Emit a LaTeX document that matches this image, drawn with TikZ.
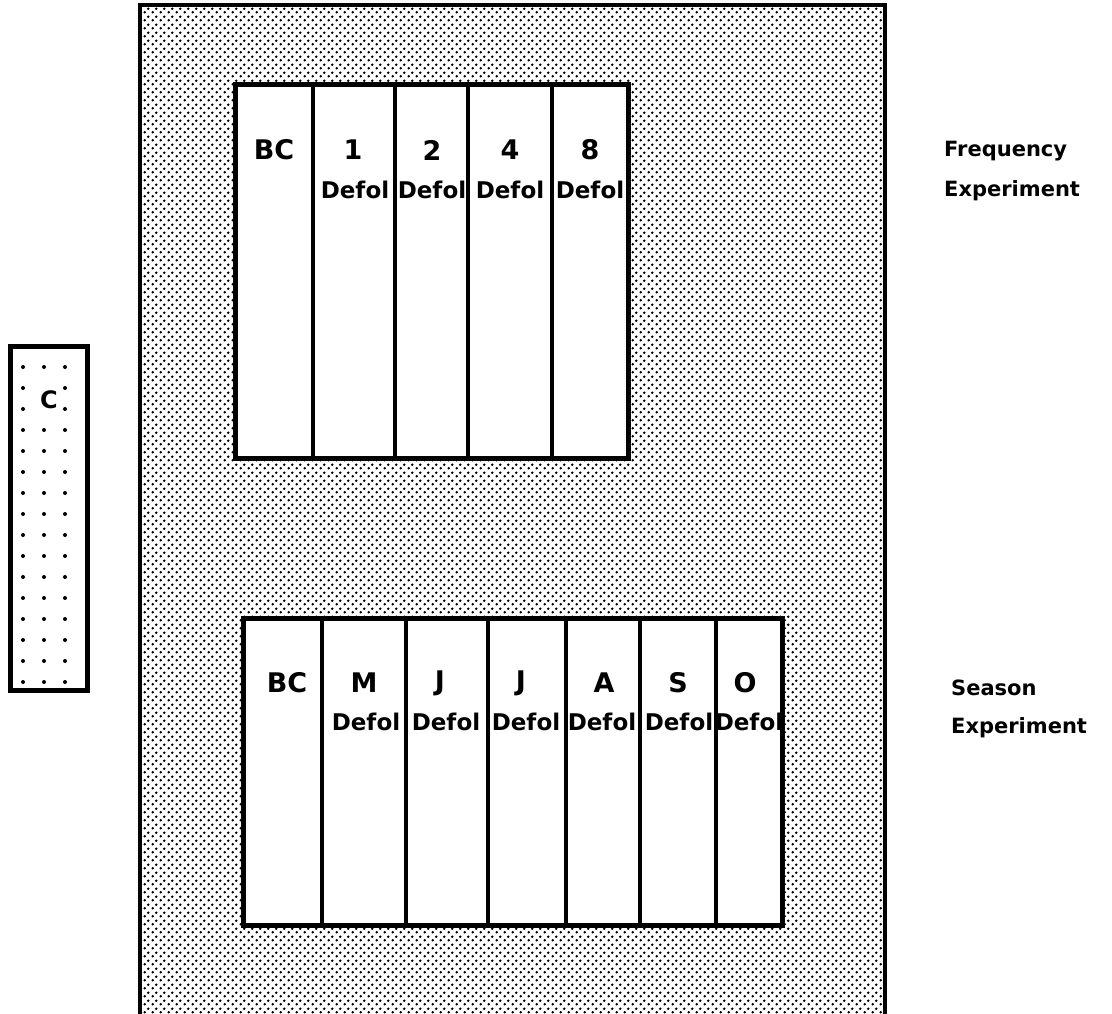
\documentclass[tikz,border=0pt]{standalone}
\usepackage{fontspec}
\setmainfont{DejaVu Sans}
\usetikzlibrary{patterns.meta}
\tikzdeclarepattern{name=stipple, type=colored, bottom left={(0pt,0pt)}, top right={(7.5pt,7.5pt)}, tile size={(7.5pt,7.5pt)},
  code={\fill[black] (1.875pt,1.875pt) circle (1.45pt); \fill[black] (5.625pt,5.625pt) circle (1.45pt);}}
\tikzset{
  plotbox/.style={draw=black, line width=5pt, fill=white},
  divider/.style={draw=black, line width=3.5pt},
  collab/.style={font=\bfseries\fontsize{27}{30}\selectfont, inner sep=0pt, anchor=center},
  defollab/.style={font=\bfseries\fontsize{23}{26}\selectfont, inner sep=0pt, anchor=center},
  explab/.style={font=\bfseries\fontsize{21}{24}\selectfont, inner sep=0pt, anchor=west},
  smalldot/.style={fill=black}
}
\begin{document}
\begin{tikzpicture}[x=1pt,y=-1pt]
\useasboundingbox (0,0) rectangle (1112,1014);
\begin{scope}
\clip (0,0) rectangle (1112,1014);
% outer stippled field
\fill[pattern={stipple}] (140,5) rectangle (885,1030);
\draw[line width=3.5pt] (140,1030) -- (140,5) -- (885,5) -- (885,1030);
\end{scope}
% frequency experiment block
\draw[plotbox] (235,85) rectangle (628,458);
\foreach \xx in {313,395,468,552} \draw[divider] (\xx,85) -- (\xx,458);
\node[collab] (f0) at (274,150) {BC};
\node[collab] (f1) at (353,150) {1};
\node[collab] (f2) at (432,150) {2};
\node[collab] (f4) at (510,150) {4};
\node[collab] (f8) at (590,150) {8};
\node[defollab] (d1) at (355,190) {Defol};
\node[defollab] (d2) at (432,190) {Defol};
\node[defollab] (d4) at (510,190) {Defol};
\node[defollab] (d8) at (590,190) {Defol};
% season experiment block
\draw[plotbox] (243,618) rectangle (782,925);
\foreach \xx in {322,406,488,566,640,716} \draw[divider] (\xx,618) -- (\xx,925);
\node[collab] (s0) at (287,683) {BC};
\node[collab] (sM) at (364,683) {M};
\node[collab] (sJ1) at (440,683) {J};
\node[collab] (sJ2) at (521,683) {J};
\node[collab] (sA) at (604,683) {A};
\node[collab] (sS) at (678,683) {S};
\node[collab] (sO) at (745,683) {O};
\node[defollab] (e1) at (366,722) {Defol};
\node[defollab] (e2) at (446,722) {Defol};
\node[defollab] (e3) at (526,722) {Defol};
\node[defollab] (e4) at (602,722) {Defol};
\node[defollab] (e5) at (679,722) {Defol};
\node[defollab] (e6) at (749,722) {Defol};
% control strip
\draw[plotbox] (10,346) rectangle (87,690);
\foreach \k in {0,...,15} {
  \fill[smalldot] (23,367+21*\k) circle (2pt);
  \fill[smalldot] (65,367+21*\k) circle (2pt);
}
\foreach \k in {0,3,4,...,15} \fill[smalldot] (44,367+21*\k) circle (2pt);
\node[collab, font=\bfseries\fontsize{24}{26}\selectfont] (ctrl) at (49,400) {C};
% labels
\node[explab] (fq) at (944,151) {Frequency};
\node[explab] (fe) at (944,191) {Experiment};
\node[explab] (ss) at (951,688) {Season};
\node[explab] (se) at (951,728) {Experiment};
\end{tikzpicture}
\end{document}
